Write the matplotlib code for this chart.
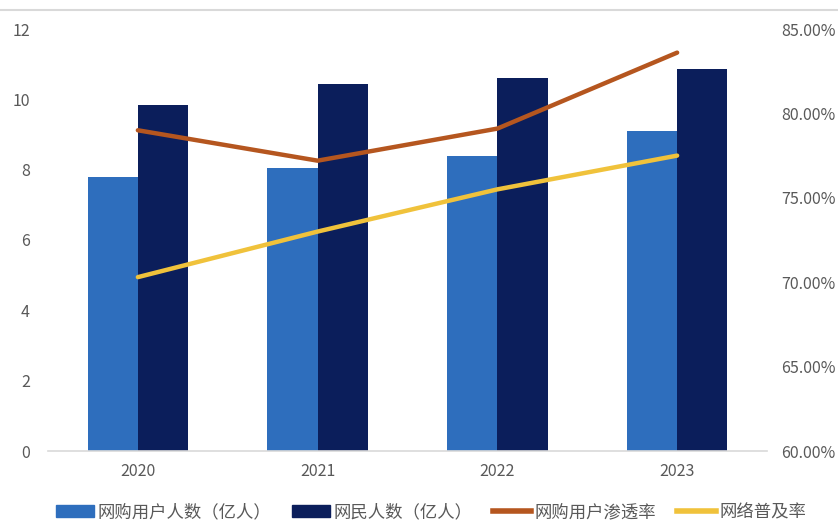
import matplotlib
matplotlib.use("Agg")
import matplotlib.pyplot as plt
from matplotlib.lines import Line2D
from matplotlib.patches import Patch
import numpy as np

plt.rcParams['font.family'] = ['Noto Sans CJK SC', 'DejaVu Sans']

years = ['2020', '2021', '2022', '2023']
shoppers = [7.78, 8.06, 8.39, 9.10]        # 网购用户人数（亿人）
netizens = [9.83, 10.45, 10.60, 10.85]     # 网民人数（亿人）
shop_rate = [79.0, 77.2, 79.1, 83.6]       # 网购用户渗透率 (%)
net_rate = [70.3, 73.0, 75.5, 77.5]        # 网络普及率 (%)
left_ticks = [0, 2, 4, 6, 8, 10, 12]
right_ticks = [60, 65, 70, 75, 80, 85]

c_light = '#2E6EBD'
c_dark = '#0B1E5B'
c_orange = '#B5561F'
c_yellow = '#F0C23B'
c_text = '#595959'

fig = plt.figure(figsize=(8.38, 5.21), dpi=100)
ax = fig.add_axes([48/838, 1-451/521, (767-48)/838, (451-29)/521])
x = np.arange(len(years))
w = 0.28
ax.bar(x - w/2, shoppers, width=w, color=c_light, zorder=2)
ax.bar(x + w/2, netizens, width=w, color=c_dark, zorder=2)
ax.set_xlim(-0.5, 3.5)
ax.set_ylim(0, 12)
ax.set_yticks(left_ticks)
ax.set_xticks(x)
ax.set_xticklabels(years)
for s in ['top', 'right', 'left']:
    ax.spines[s].set_visible(False)
ax.spines['bottom'].set_color('#D9D9D9')
ax.spines['bottom'].set_linewidth(1.2)
ax.tick_params(axis='both', length=0, colors=c_text, labelsize=11.5)
ax.tick_params(axis='y', pad=13)
ax.tick_params(axis='x', pad=9)

ax2 = ax.twinx()
ax2.plot(x, shop_rate, color=c_orange, lw=3.2, solid_capstyle='round', zorder=3)
ax2.plot(x, net_rate, color=c_yellow, lw=3.2, solid_capstyle='round', zorder=3)
ax2.set_ylim(60, 85)
ax2.set_yticks(right_ticks)
ax2.set_yticklabels([f'{v:.2f}%' for v in right_ticks])
for s in ['top', 'right', 'left', 'bottom']:
    ax2.spines[s].set_visible(False)
ax2.tick_params(axis='y', length=0, colors=c_text, labelsize=11.5, pad=10)

# top border line
fig.add_artist(Line2D([0, 1], [1-10/521, 1-10/521], color='#D9D9D9', lw=1.5))

handles = [Patch(color=c_light), Patch(color=c_dark),
           Line2D([0], [0], color=c_orange, lw=4),
           Line2D([0], [0], color=c_yellow, lw=4)]
labels = ['网购用户人数（亿人）', '网民人数（亿人）', '网购用户渗透率', '网络普及率']
fig.legend(handles, labels, loc='center', bbox_to_anchor=(0.514, 1-512/521),
           ncol=4, frameon=False, fontsize=12.5, labelcolor=c_text,
           handlelength=2.2, handletextpad=0.2, columnspacing=1.2,
           handleheight=0.7)

fig.savefig('out.png', dpi=100)
